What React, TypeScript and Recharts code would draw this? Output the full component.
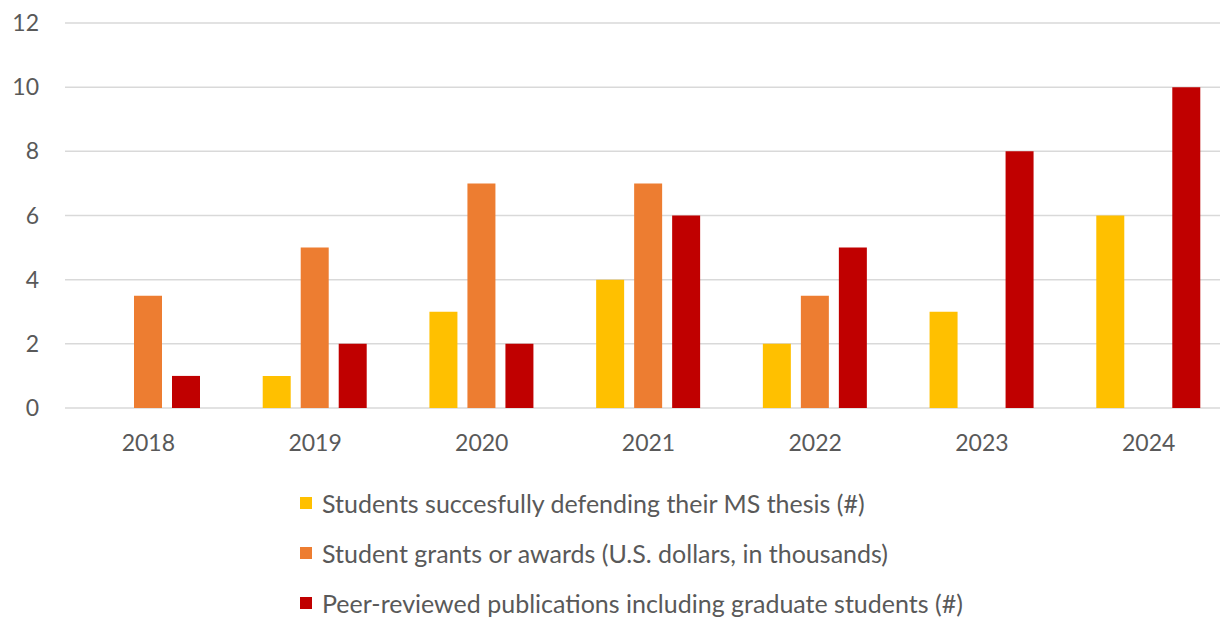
import { BarChart, Bar, XAxis, YAxis, CartesianGrid, Legend } from 'recharts'

const years = ['2018', '2019', '2020', '2021', '2022', '2023', '2024']
const thesis = [0, 1, 3, 4, 2, 3, 6]
const grants = [3.5, 5, 7, 7, 3.5, 0, 0]
const pubs = [1, 2, 2, 6, 5, 8, 10]
const yTicks = [0, 2, 4, 6, 8, 10, 12]

const series = [
  { key: 'thesis', name: 'Students succesfully defending their MS thesis (#)', color: '#FFC000' },
  { key: 'grants', name: 'Student grants or awards (U.S. dollars, in thousands)', color: '#ED7D31' },
  { key: 'pubs', name: 'Peer-reviewed publications including graduate students (#)', color: '#C00000' },
]

const data = years.map((y, i) => ({ year: y, thesis: thesis[i], grants: grants[i], pubs: pubs[i] }))

const FONT = 'Lato, "Open Sans", sans-serif'

const LegendList = () => (
  <div style={{ paddingLeft: 300, paddingTop: 8, fontFamily: FONT, fontSize: 25, color: '#595959' }}>
    {series.map(s => (
      <div key={s.key} style={{ height: 50, display: 'flex', alignItems: 'center', whiteSpace: 'nowrap' }}>
        <span style={{ width: 12, height: 12, background: s.color, display: 'inline-block', marginRight: 10, flexShrink: 0 }} />
        <span>{s.name}</span>
      </div>
    ))}
  </div>
)

export default function App() {
  return (
    <div style={{ position: 'absolute', left: 0, top: 0, width: 1220, height: 618, overflow: 'hidden', background: '#fff' }}>
      <BarChart
        width={1232}
        height={618}
        data={data}
        margin={{ top: 23, right: 0, left: 0, bottom: 0 }}
        barGap={10}
        barSize={28}
      >
        <CartesianGrid vertical={false} stroke="#d9d9d9" strokeWidth={1.5} />
        <XAxis
          dataKey="year"
          height={62}
          tickLine={false}
          axisLine={false}
          tickSize={0}
          tickMargin={27}
          tick={{ fontSize: 23, fill: '#595959', fontFamily: FONT }}
        />
        <YAxis
          width={65}
          domain={[0, 12]}
          ticks={yTicks}
          tickLine={false}
          axisLine={false}
          tickSize={0}
          tickMargin={26}
          tick={{ fontSize: 23, fill: '#595959', fontFamily: FONT }}
        />
        <Legend verticalAlign="bottom" height={148} content={<LegendList />} />
        {series.map(s => (
          <Bar key={s.key} dataKey={s.key} name={s.name} fill={s.color} isAnimationActive={false} />
        ))}
      </BarChart>
    </div>
  )
}
